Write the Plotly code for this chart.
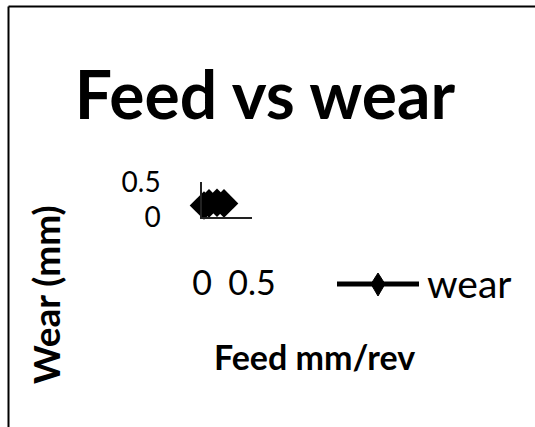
import plotly.graph_objects as go

# --- data ---
feed = [0.02, 0.07, 0.15, 0.22]
wear = [0.16, 0.19, 0.20, 0.19]
series_name = 'wear'
x_ticks = [0, 0.5]
y_ticks = [0, 0.5]

W, H = 535, 427
FONT = 'Lato'


def px(x):
    return x / W


def py(y):
    return 1 - y / H


fig = go.Figure()

fig.add_trace(go.Scatter(
    x=feed, y=wear,
    mode='lines+markers',
    name=series_name,
    line=dict(color='#000000', width=3),
    marker=dict(symbol='diamond', size=22, color='#000000'),
    showlegend=False,
    cliponaxis=False,
))

# hand-drawn legend key (Excel-style long line sample)
fig.add_shape(type='line', xref='paper', yref='paper',
              x0=px(337), x1=px(419), y0=py(284), y1=py(284),
              line=dict(color='#000000', width=5))
fig.add_shape(type='path', xref='paper', yref='paper',
              path=(f'M {px(378)},{py(273)} L {px(385)},{py(284)} '
                    f'L {px(378)},{py(296)} L {px(371)},{py(284)} Z'),
              fillcolor='#000000', line=dict(color='#000000', width=1))
fig.add_annotation(text=series_name, xref='paper', yref='paper',
                   x=px(425), y=py(283), xanchor='left', yanchor='middle',
                   showarrow=False, font=dict(family=FONT, size=39, color='#000000'))

# axis titles sit off-centre in the reference, so place them by hand
fig.add_annotation(text='<b>Feed mm/rev</b>', xref='paper', yref='paper',
                   x=px(314), y=py(356), xanchor='center', yanchor='middle',
                   showarrow=False, font=dict(family=FONT, size=34, color='#000000'))
fig.add_annotation(text='<b>Wear (mm)</b>', xref='paper', yref='paper',
                   x=px(45), y=py(295), xanchor='center', yanchor='middle',
                   textangle=-90,
                   showarrow=False, font=dict(family=FONT, size=37, color='#000000'))

# chart area border (top and left edges visible)
fig.add_shape(type='line', xref='paper', yref='paper',
              x0=px(8.5), x1=px(535), y0=py(6.5), y1=py(6.5),
              line=dict(color='#000000', width=2))
fig.add_shape(type='line', xref='paper', yref='paper',
              x0=px(8.5), x1=px(8.5), y0=py(6.5), y1=py(427),
              line=dict(color='#000000', width=2))

fig.update_layout(
    width=W, height=H,
    margin=dict(l=0, r=0, t=0, b=0, autoexpand=False),
    paper_bgcolor='#ffffff',
    plot_bgcolor='#ffffff',
    font=dict(family=FONT, color='#000000'),
    title=dict(text='<b>Feed vs wear</b>', x=px(265), xanchor='center',
               y=py(96), yanchor='middle', automargin=False,
               font=dict(family=FONT, size=66, color='#000000')),
    xaxis=dict(
        domain=[px(202), px(252)],
        range=[0, 0.5],
        tickvals=x_ticks,
        ticktext=['0', '0.5'],
        showgrid=False,
        zeroline=False,
        showline=True, linecolor='#222222', linewidth=1.5,
        ticks='',
        automargin=False,
        ticklabelstandoff=36,
        tickfont=dict(family=FONT, size=34),
    ),
    yaxis=dict(
        domain=[py(216.7), py(181.7)],
        range=[0, 0.5],
        tickvals=y_ticks,
        ticktext=['0', '0.5'],
        showgrid=True, gridcolor='#222222', gridwidth=1.5,
        zeroline=False,
        showline=True, linecolor='#222222', linewidth=1.5,
        ticks='',
        automargin=False,
        ticklabelstandoff=34,
        tickfont=dict(family=FONT, size=28),
    ),
)

fig.write_html('out.html', config={'displayModeBar': False},
               post_script="document.body.style.margin='0px';")
